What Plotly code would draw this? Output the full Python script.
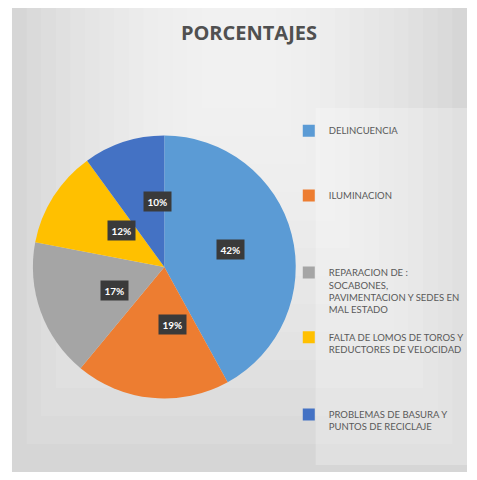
import math
import plotly.graph_objects as go

# ---- data ----
categories = [
    "DELINCUENCIA",
    "ILUMINACION",
    "REPARACION DE :<br>SOCABONES,<br>PAVIMENTACION Y SEDES EN<br>MAL ESTADO",
    "FALTA DE LOMOS DE TOROS Y<br>REDUCTORES DE VELOCIDAD",
    "PROBLEMAS DE BASURA Y<br>PUNTOS DE RECICLAJE",
]
values = [42, 19, 17, 12, 10]
pct_labels = ["42%", "19%", "17%", "12%", "10%"]
colors = ["#5B9BD5", "#ED7D31", "#A5A5A5", "#FFC000", "#4472C4"]
# blank lines appended to each legend entry to reproduce the even spacing
legend_pad = [4, 5, 1, 4, 0]

# page body adds an 8px margin around the figure; size chosen so page = 477x480
W, H = 461, 464
OFF = 8


def fx(p):
    return (p - OFF) / W


def fy(p):
    return 1 - (p - OFF) / H


# pie placement (screen pixels)
CX, CY, R = 165, 267, 132
dom_x = [fx(CX - R), fx(CX + R)]
dom_y = [fy(CY + R), fy(CY - R)]

legend_labels = [c + "<br> " * p for c, p in zip(categories, legend_pad)]

fig = go.Figure()
fig.add_trace(go.Pie(
    labels=legend_labels,
    values=values,
    marker=dict(colors=colors, line=dict(width=0)),
    sort=False,
    direction="clockwise",
    rotation=0,
    textinfo="none",
    hoverinfo="label+percent",
    domain=dict(x=dom_x, y=dom_y),
))

# data labels (boxes) placed from cumulative values
total = sum(values)
cum = 0
annotations = []
for v, t in zip(values, pct_labels):
    mid = (cum + v / 2) / total * 2 * math.pi
    cum += v
    px = CX + 0.52 * R * math.sin(mid)
    py = CY - 0.52 * R * math.cos(mid)
    annotations.append(dict(
        x=fx(px), y=fy(py), xref="paper", yref="paper",
        text="<b>%s</b>" % t, showarrow=False,
        font=dict(family="Lato, Open Sans, sans-serif", size=10, color="white"),
        bgcolor="#3a3a3a", borderpad=3.5,
    ))

# background (simulated soft gradient)
shapes = []
x0, y0, x1, y1 = 12, 8, 469, 472
shapes.append(dict(type="rect", xref="paper", yref="paper",
                   x0=fx(x0), x1=fx(x1), y0=fy(y1), y1=fy(y0),
                   fillcolor="#d2d2d2", line=dict(width=0), layer="below"))
n = 14
for i in range(n):
    f = i / n
    gx0 = x0 + (240 - x0) * f * 0.9
    gx1 = x1 - (x1 - 240) * f * 0.9
    gy0 = y0
    gy1 = 472 - (472 - 60) * f * 0.95
    shapes.append(dict(type="rect", xref="paper", yref="paper",
                       x0=fx(gx0), x1=fx(gx1), y0=fy(gy1), y1=fy(gy0),
                       fillcolor="rgba(255,255,255,0.1)", line=dict(width=0),
                       layer="below"))
# legend panel
shapes.append(dict(type="rect", xref="paper", yref="paper",
                   x0=fx(317), x1=fx(469), y0=fy(465), y1=fy(108),
                   fillcolor="rgba(255,255,255,0.25)", line=dict(width=0),
                   layer="below"))

fig.update_layout(
    width=W, height=H,
    margin=dict(l=0, r=0, t=0, b=0),
    paper_bgcolor="white",
    plot_bgcolor="white",
    title=dict(text="<b>PORCENTAJES</b>", x=fx(250), y=fy(33),
               xanchor="center", yanchor="middle", xref="paper", yref="paper",
               font=dict(family="Open Sans, Lato, sans-serif", size=20, color="#505050")),
    legend=dict(x=fx(290), y=fy(118), xanchor="left", yanchor="top",
                valign="top", bgcolor="rgba(0,0,0,0)",
                font=dict(family="Lato, Open Sans, sans-serif", size=9.5, color="#595959")),
    annotations=annotations,
    shapes=shapes,
)

fig.write_html("out.html")
